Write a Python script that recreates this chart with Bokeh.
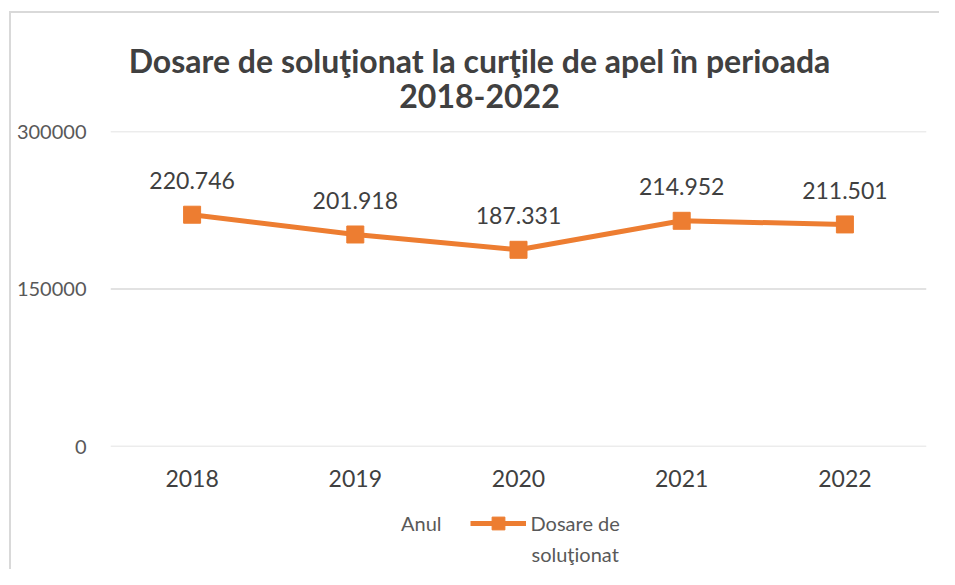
from bokeh.plotting import figure
from bokeh.layouts import column
from bokeh.models import (Legend, LegendItem, FactorRange, NumeralTickFormatter, Label, Range1d,
                          ColumnDataSource, LabelSet, FixedTicker, Span)
from bokeh.core.properties import value
from bokeh.embed import file_html
from bokeh.resources import INLINE

years = ["2018", "2019", "2020", "2021", "2022"]
dosare = [220746, 201918, 187331, 214952, 211501]
y_ticks = [0, 150000, 300000]
title_lines = ["Dosare de soluţionat la curţile de apel în perioada", "2018-2022"]
series_name = ["Dosare de", "soluţionat"]
legend_first = "Anul"

FONT = "Lato"
ORANGE = "#ED7D31"
GRID = "#d9d9d9"
W = 939
L, R = 110, 13          # frame margins shared by all strips
NAN = float("nan")


def strip(height):
    f = figure(width=W, height=height, x_range=(L, W - R), y_range=Range1d(height, 0),
               output_backend="svg", toolbar_location=None, min_border=0,
               min_border_left=L, min_border_right=R)
    f.axis.visible = False
    f.grid.visible = False
    f.outline_line_color = None
    f.background_fill_color = None
    f.border_fill_color = None
    return f


# ---- title strip
TH = 115
t = strip(TH)
for line, ypos in zip(title_lines, [60, 95]):
    t.add_layout(Label(x=479, y=ypos, text=line, text_align="center", text_baseline="middle",
                       text_font=FONT, text_font_size="32px", text_font_style="bold",
                       text_color="#404040"))

# ---- main chart
labels = [f"{v:,}".replace(",", ".") for v in dosare]
src = ColumnDataSource(dict(x=years, y=dosare, lab=labels))

p = figure(width=W, height=390, x_range=FactorRange(*years, range_padding=0),
           y_range=(0, 300000), output_backend="svg", toolbar_location=None,
           min_border_left=L, min_border_right=R, min_border_top=16, min_border_bottom=59)
p.outline_line_color = None
p.background_fill_color = None
p.border_fill_color = None

p.yaxis.ticker = FixedTicker(ticks=y_ticks)
p.yaxis.formatter = NumeralTickFormatter(format="0")
p.yaxis.axis_line_color = None
p.yaxis.major_tick_line_color = None
p.yaxis.minor_tick_line_color = None
p.yaxis.major_label_text_font = FONT
p.yaxis.major_label_text_font_size = "20px"
p.yaxis.major_label_text_color = "#595959"
p.yaxis.major_label_standoff = 18

p.xaxis.axis_line_color = None
p.xaxis.major_tick_line_color = None
p.xaxis.minor_tick_line_color = None
p.xaxis.major_label_text_font = FONT
p.xaxis.major_label_text_font_size = "23px"
p.xaxis.major_label_text_color = "#404040"
p.xaxis.major_label_standoff = 17

p.xgrid.grid_line_color = None
p.ygrid.grid_line_color = None
for tk in y_ticks:
    p.add_layout(Span(location=tk, dimension="width", line_color=GRID, line_width=1.5,
                      level="underlay"))

p.line("x", "y", source=src, line_color=ORANGE, line_width=5)
p.scatter("x", "y", source=src, marker="square", size=17, color=ORANGE)

p.add_layout(LabelSet(x="x", y="y", text="lab", source=src, y_offset=34,
                      text_align="center", text_baseline="middle",
                      text_font=value(FONT), text_font_size=value("23px"), text_color="#404040"))

# ---- legend strip
LH = 64
q = strip(LH)
dummy = q.line(x=[NAN], y=[NAN], line_alpha=0)
ln2 = q.line(x=[NAN], y=[NAN], line_color=ORANGE, line_width=5)
sc2 = q.scatter(x=[NAN], y=[NAN], marker="square", size=13, color=ORANGE)

legend = Legend(items=[LegendItem(label=legend_first, renderers=[dummy]),
                       LegendItem(label=series_name[0], renderers=[ln2, sc2])],
                orientation="horizontal", location=(340 - L, 30),
                glyph_width=56, glyph_height=32, label_standoff=5, spacing=28,
                padding=0, margin=0,
                background_fill_alpha=0, border_line_color=None,
                label_text_font=FONT, label_text_font_size="20px",
                label_text_color="#595959")
q.add_layout(legend, "center")
q.add_layout(Label(x=531, y=48, text=series_name[1], text_align="left",
                   text_baseline="middle", text_font=FONT, text_font_size="20px",
                   text_color="#595959"))

layout = column(t, p, q, spacing=0)
layout.styles = {
    "background-color": "white",
    "background-image": f"linear-gradient({GRID},{GRID}), linear-gradient({GRID},{GRID})",
    "background-size": "2px 100%, 100% 2px",
    "background-position": "9px 11px, 9px 11px",
    "background-repeat": "no-repeat",
}

open("out.html", "w").write(file_html(layout, INLINE))
